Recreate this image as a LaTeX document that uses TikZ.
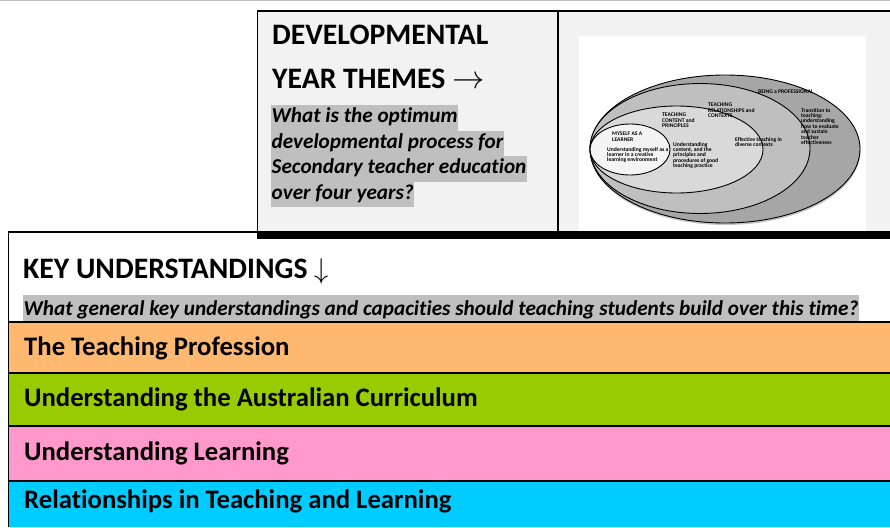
\documentclass[tikz,border=0pt]{standalone}
\usepackage{fontspec}
\setmainfont{Carlito}[Ligatures=NoCommon]
\usetikzlibrary{shadows}
\definecolor{paneg}{HTML}{F2F2F2}
\definecolor{hlgray}{HTML}{BFBFBF}
\definecolor{bandorange}{HTML}{FFB86F}
\definecolor{bandgreen}{HTML}{99CC00}
\definecolor{bandpink}{HTML}{FF99CC}
\definecolor{bandcyan}{HTML}{00CCFF}
\definecolor{ringa}{HTML}{A6A6A6}
\definecolor{ringb}{HTML}{BFBFBF}
\definecolor{ringc}{HTML}{D9D9D9}
\definecolor{ringd}{HTML}{F4F4F4}
\tikzset{
  heading/.style={anchor=base west, inner sep=0pt, font=\fontsize{29.7}{29.7}\selectfont\bfseries},
  question/.style={anchor=base west, fill=hlgray, inner xsep=0.5pt, inner ysep=0pt,
    text height=17.5pt, text depth=8pt, font=\fontsize{21.2}{21.2}\selectfont\bfseries\itshape},
  bandlabel/.style={anchor=base west, inner sep=0pt, font=\fontsize{26.7}{26.7}\selectfont\bfseries},
  ringtext/.style={anchor=north west, inner sep=0pt, align=left,
    font=\fontsize{5.6}{5.4}\selectfont\bfseries},
}
\begin{document}
\begin{tikzpicture}[x=1pt,y=-1pt]
  \useasboundingbox (0,0) rectangle (890,527);
  % top rule
  \draw[black!25, line width=1.2pt] (0,0.7) -- (890,0.7);
  % themes panel
  \fill[paneg] (257,11) rectangle (890,231);
  \fill[white] (579,36) rectangle (866,231);
  \draw[line width=2pt] (257,11) -- (890,11);
  \draw[line width=1pt] (257,11) -- (257,231);
  \draw[line width=1.5pt] (558,11) -- (558,231);
  \fill[black] (257,231) rectangle (890,239);
  \node[heading] (dev) at (272,45) {DEVELOPMENTAL};
  \node[heading] (year) at (272,88) {YEAR THEMES \scalebox{1.3}{$\rightarrow$}};
  \node[question] (q1) at (271,122.5) {What is the optimum};
  \node[question] (q2) at (271,148) {developmental process for};
  \node[question] (q3) at (271,173.5) {Secondary teacher education};
  \node[question] (q4) at (271,199) {over four years?};
  % nested themes
  \begin{scope}[line width=0.9pt]
    \draw[fill=ringa, drop shadow={shadow xshift=0.5pt, shadow yshift=-2pt, opacity=0.45}]
      (725,149) ellipse [x radius=135, y radius=74];
    \draw[fill=ringb] (700,148.5) ellipse [x radius=110, y radius=65];
    \draw[fill=ringc] (676.5,149.5) ellipse [x radius=86.5, y radius=43.5];
    \draw[fill=ringd] (630,149.5) ellipse [x radius=40, y radius=25.5];
  \end{scope}
  \node[ringtext] (prof) at (758,90) {BEING a PROFESSIONAL};
  \node[ringtext] (profd) at (801,108) {Transition to\\teaching:\\understanding\\how to evaluate\\and sustain\\teacher\\effectiveness};
  \node[ringtext] (rel) at (708,103) {TEACHING\\RELATIONSHIPS and\\CONTEXTS};
  \node[ringtext] (reld) at (735,137) {Effective teaching in\\diverse contexts};
  \node[ringtext] (cont) at (662,113) {TEACHING\\CONTENT and\\PRINCIPLES};
  \node[ringtext] (contd) at (673,142) {Understanding\\content, and the\\principles and\\procedures of good\\teaching practice};
  \node[ringtext] (self) at (612,132) {MYSELF AS A\\LEARNER};
  \node[ringtext] (selfd) at (607,147) {Understanding myself as a\\learner in a creative\\learning environment};
  % key understandings
  \fill[bandorange] (8.5,322) rectangle (890,373);
  \fill[bandgreen] (8.5,373) rectangle (890,426);
  \fill[bandpink] (8.5,426) rectangle (890,481);
  \fill[bandcyan] (8.5,481) rectangle (890,527);
  \begin{scope}[line width=1.5pt]
    \draw (257,232) -- (8.5,232) -- (8.5,527);
    \draw (8.5,322) -- (890,322);
    \draw (8.5,373) -- (890,373);
    \draw (8.5,426) -- (890,426);
    \draw (8.5,481) -- (890,481);
  \end{scope}
  \node[heading] (key) at (23,278) {KEY UNDERSTANDINGS \scalebox{1.15}{$\downarrow$}};
  \node[question, text height=20pt, text depth=6pt] (kq) at (23,315) {What general key understandings and capacities should teaching students build over this time?};
  \node[bandlabel] (tp) at (24,355) {The Teaching Profession};
  \node[bandlabel] (ac) at (24,406) {Understanding the Australian Curriculum};
  \node[bandlabel] (ul) at (24,460) {Understanding Learning};
  \node[bandlabel] (rt) at (24,508) {Relationships in Teaching and Learning};
\end{tikzpicture}
\end{document}
